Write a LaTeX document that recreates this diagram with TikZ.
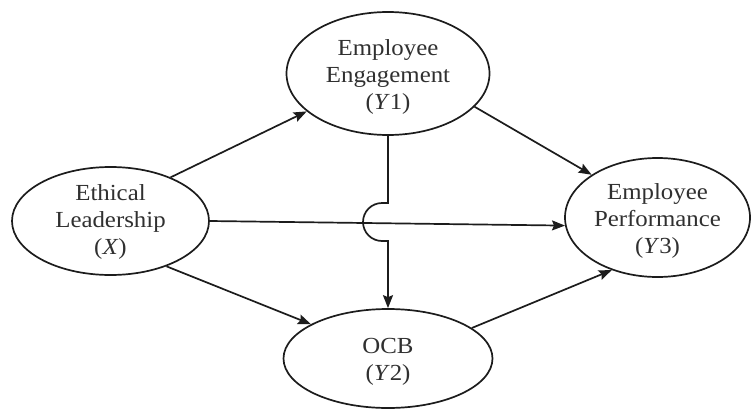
\documentclass[tikz,border=0pt]{standalone}
\usepackage{fontspec}
\setmainfont{Liberation Serif}[FakeStretch=1.08]
\usetikzlibrary{arrows.meta,shapes.geometric}
\definecolor{ink}{HTML}{1C1C1C}
\definecolor{txt}{HTML}{303030}
\begin{document}
\begin{tikzpicture}[x=1pt,y=1pt,
  construct/.style={ellipse,draw=ink,line width=1.7pt,inner sep=0pt},
  lbl/.style={align=center,text=txt,font=\fontsize{23}{27}\selectfont,inner sep=0pt},
  path/.style={draw=ink,line width=1.7pt,-{Stealth[length=13pt,width=10pt,inset=2pt]}}]
\useasboundingbox[fill=white] (0,0) rectangle (751,408);

% latent constructs
\node[construct,minimum width=197pt,minimum height=108pt] (X)  at (110.5,187) {};
\node[construct,minimum width=203pt,minimum height=123pt] (Y1) at (388,334.5) {};
\node[construct,minimum width=209pt,minimum height=99pt]  (Y2) at (388,49.5) {};
\node[construct,minimum width=185pt,minimum height=119pt] (Y3) at (657.5,190.5) {};

% construct labels
\node[lbl] (Xt)  at (110.5,186) {Ethical\\Leadership\\(\textit{X})};
\node[lbl] (Y1t) at (388,331) {Employee\\Engagement\\(\textit{Y}1)};
\node[lbl] (Y2t) at (388,46) {OCB\\(\textit{Y}2)};
\node[lbl] (Y3t) at (657.5,187) {Employee\\Performance\\(\textit{Y}3)};

% structural paths
\draw[path] (X.36)   -- (Y1.205);
\draw[path] (Y1.339) -- (Y3.147);
\draw[path] (X.0)    -- (Y3.185);
\draw[path] (X.321)  -- (Y2.156);
\draw[path] (Y2.20)  -- (Y3.229);

% Y1 -> Y2 with a hop over the X -> Y3 path
\coordinate (hop) at (388,186);
\draw[path] (Y1.south) -- ([yshift=19pt]hop) -- ([xshift=-6pt,yshift=19pt]hop)
  arc[start angle=90,end angle=270,radius=19pt]
  -- ([yshift=-19pt]hop) -- (Y2.north);
\end{tikzpicture}
\end{document}
